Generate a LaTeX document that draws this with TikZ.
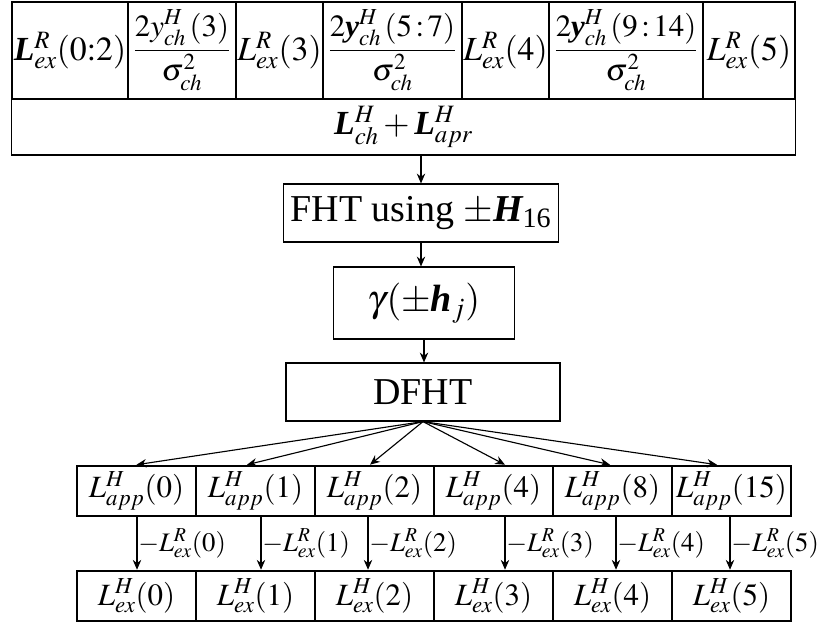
\documentclass[tikz,border=0pt]{standalone}
\usepackage{amsmath,amssymb}
\usepackage{mathptmx}
\usepackage{fontspec}
\setmainfont{Liberation Serif}
\usetikzlibrary{arrows.meta}
\newcommand{\bv}[1]{\text{\bfseries\itshape #1}}

\begin{document}
\begin{tikzpicture}[x=0.025cm,y=-0.025cm,>={Stealth[length=7pt,width=6pt]},
  cell/.style={draw,line width=0.8pt,inner sep=0pt,minimum height=2.425cm,font=\fontsize{24}{28}\selectfont},
  frc/.style={cell,font=\fontsize{22}{26}\selectfont},
  blk/.style={draw,line width=0.8pt,inner sep=0pt,font=\fontsize{27}{32}\selectfont},
  llr/.style={draw,line width=1.8pt,inner sep=0pt,minimum width=2.975cm,minimum height=1.25cm,font=\fontsize{22}{26}\selectfont}]
  \useasboundingbox (0,0) rectangle (820,626);
  \node[cell,minimum width=2.9cm] (lex02) at (70,50.5) {$\bv{L}^R_{ex}(0{:}2)$};
  \node[frc,minimum width=2.7cm] (fr3) at (182,50.5) {$\dfrac{2y^H_{ch}\,(3)}{\sigma^2_{ch}}$};
  \node[cell,minimum width=2.175cm] (lex3) at (279.5,50.5) {$L^R_{ex}(3)$};
  \node[frc,minimum width=3.475cm] (fr57) at (392.5,50.5) {$\dfrac{2\bv{y}^H_{ch}\,(5{\,:\,}7)}{\sigma^2_{ch}}$};
  \node[cell,minimum width=2.175cm] (lex4) at (505.5,50.5) {$L^R_{ex}(4)$};
  \node[frc,minimum width=3.85cm] (fr914) at (626,50.5) {$\dfrac{2\bv{y}^H_{ch}\,(9{\,:\,}14)}{\sigma^2_{ch}}$};
  \node[cell,minimum width=2.3cm] (lex5) at (749,50.5) {$L^R_{ex}(5)$};
  \node[cell,minimum width=19.575cm,minimum height=1.4cm] (lsum) at (403.5,127) {$\bv{L}^H_{ch}+\bv{L}^H_{apr}$};
  \node[blk,minimum width=6.875cm,minimum height=1.45cm] (fht) at (421,213) {FHT using $\pm\bv{H}_{\text{\upshape 16}}$};
  \node[blk,minimum width=4.525cm,minimum height=1.8cm] (gam) at (424,303) {$\gamma(\pm\bv{h}_j)$};
  \node[blk,minimum width=6.85cm,minimum height=1.45cm] (dfht) at (423,392) {DFHT};
  \draw[->,line width=0.8pt] (lsum.south -| fht.north) -- (fht.north);
  \draw[->,line width=0.8pt] (fht.south) -- (fht.south |- gam.north);
  \draw[->,line width=0.8pt] (gam.south) -- (gam.south |- dfht.north);
  \foreach \i/\k in {0/0,1/1,2/2,3/4,4/8,5/15} {
    \node[llr] (app\k) at (136.5+119*\i,491) {$L^H_{app}(\k)$};
    \node[llr] (ex\i) at (136.5+119*\i,596) {$L^H_{ex}(\i)$};
  }
  \foreach \k/\s in {0/0,1/-8.5,2/-4.5,4/11.5,8/-2.5,15/-14.5}
    \draw[->,line width=0.8pt] (dfht.south) -- ([xshift={\s*0.025cm}]app\k.north);
  \foreach \k/\i/\s in {0/0/0.5,1/1/5.5,2/2/-6.5,4/3/11.5,8/4/3.5,15/5/-1.5}
    \draw[->,line width=0.8pt] ([xshift={\s*0.025cm}]app\k.south) -- ([xshift={\s*0.025cm}]ex\i.north)
      node[midway,right,inner sep=0.5pt,font=\fontsize{19}{23}\selectfont] {$-L^R_{ex}(\i)$};
\end{tikzpicture}
\end{document}
